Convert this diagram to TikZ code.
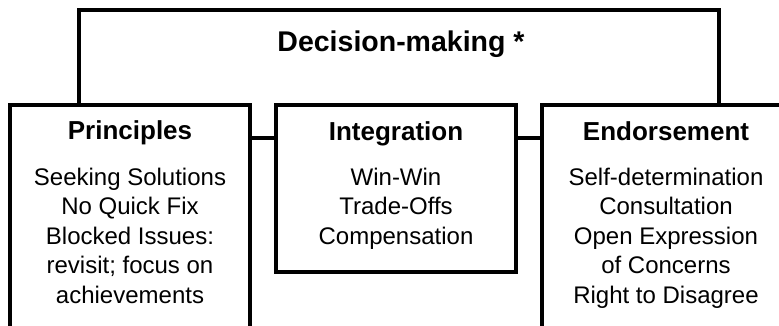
\documentclass[tikz,border=0pt]{standalone}
\usepackage{fontspec}
\setmainfont{Liberation Sans}
\begin{document}
\begin{tikzpicture}[x=1pt,y=-1pt,
  frame/.style={draw=black,line width=4.5pt,line join=miter},
  panel/.style={frame,rectangle,inner sep=0pt,outer sep=0pt,anchor=north west},
  headline/.style={font=\bfseries\fontsize{28.5}{34}\selectfont,anchor=base,inner sep=0pt},
  paneltitle/.style={font=\bfseries\fontsize{26}{31}\selectfont,anchor=base,inner sep=0pt},
  % multi-line text: the base anchor sits on the last line
  paneltext/.style={font=\fontsize{24}{29.5}\selectfont,align=center,anchor=base,inner sep=0pt},
  link/.style={frame}]
\useasboundingbox (0,0) rectangle (779,326);
\clip (0,0) rectangle (779,326);
\fill[white] (0,0) rectangle (779,326);

% the three panels (outer two run past the edges)
\node[panel,minimum width=240pt,minimum height=250pt] (prin) at (10,105) {};
\node[panel,minimum width=240pt,minimum height=167pt] (integ) at (276,105) {};
\node[panel,minimum width=248pt,minimum height=250pt] (endo) at (542,105) {};

% frame of the decision-making heading
\coordinate (tl) at (79,10);
\coordinate (tr) at (719,10);
\draw[frame] (tl |- prin.north) -- (tl) -- (tr) -- (tr |- endo.north);
\node[headline] (head) at (401,52) {Decision-making *};

% links between neighbouring panels
\draw[link] ([yshift=-33pt]prin.north east) -- ([yshift=-33pt]integ.north west);
\draw[link] ([yshift=-33pt]integ.north east) -- ([yshift=-33pt]endo.north west);

% panel headings
\node[paneltitle] (prinT) at (130,140) {Principles};
\node[paneltitle] (integT) at (396,141) {Integration};
\node[paneltitle] (endoT) at (666,141) {Endorsement};

% panel contents, placed by the baseline of their last line
\node[paneltext] (prinB) at (130,303) {Seeking Solutions\\No Quick Fix\\Blocked Issues:\\revisit; focus on\\achievements};
\node[paneltext] (integB) at (396,244) {Win-Win\\Trade-Offs\\Compensation};
\node[paneltext] (endoB) at (666,303) {Self-determination\\Consultation\\Open Expression\\of Concerns\\Right to Disagree};
\end{tikzpicture}
\end{document}
